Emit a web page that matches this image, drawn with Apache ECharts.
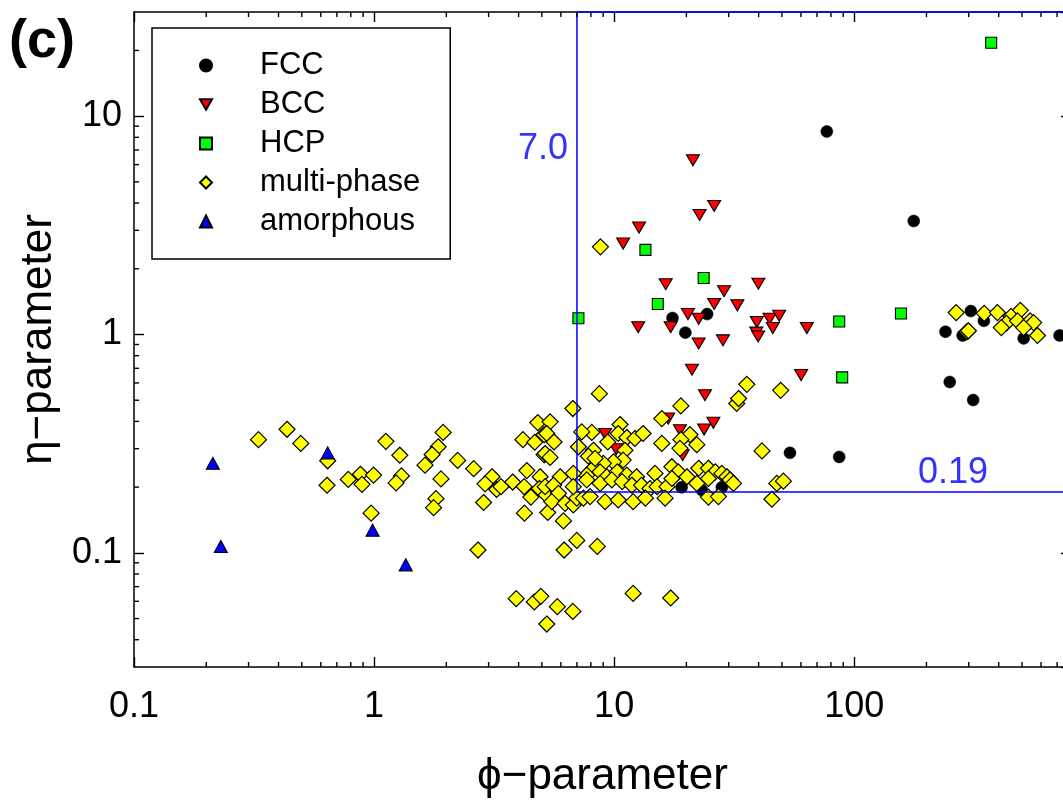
<!DOCTYPE html>
<html>
<head>
<meta charset="utf-8">
<script src="https://cdn.jsdelivr.net/npm/echarts@6/dist/echarts.min.js"></script>
<style>
  html, body { margin: 0; padding: 0; background: #fff; }
  #chart { width: 1063px; height: 803px; }
</style>
</head>
<body>
<div id="chart"></div>
<script>
// phi (x) and eta (y) parameters of each alloy, grouped by observed phase
const fcc = [
  [76.9, 8.51], [177, 3.31], [240, 1.03], [283, 0.99], [306, 1.28], [347, 1.155],
  [508, 0.96], [717, 0.99], [250, 0.606], [313, 0.501], [54, 0.287], [86.6, 0.275],
  [17.5, 1.19], [24.4, 1.24], [19.8, 1.02], [19.1, 0.1995], [23.2, 0.194], [28.1, 0.1995]
];
const bcc = [
  [21.3, 6.28], [26.1, 3.88], [22.7, 3.53], [12.7, 3.09], [10.9, 2.61], [16.4, 1.70],
  [28.7, 1.58], [39.9, 1.71], [26.1, 1.38], [32.6, 1.36], [20.3, 1.24], [22.5, 1.18],
  [12.6, 1.08], [17.2, 1.08], [39.3, 1.14], [44.4, 1.18], [48.7, 1.22], [45.8, 1.07],
  [39.1, 1.02], [39.8, 0.98], [63.5, 1.07], [22.5, 0.91], [28.4, 0.94], [21.1, 0.69],
  [60.1, 0.652], [23.9, 0.527], [16.8, 0.412], [18.8, 0.364], [25.9, 0.394], [23.7, 0.367],
  [9.17, 0.35], [10.2, 0.298], [19.3, 0.28]
];
const hcp = [
  [372, 21.7], [86.6, 1.147], [156.6, 1.247], [89.1, 0.636],
  [13.5, 2.44], [23.6, 1.815], [15.2, 1.38], [7.1, 1.187]
];
const multiPhase = [
  [0.330, 0.330], [0.434, 0.368], [0.495, 0.317], [0.641, 0.264], [0.637, 0.204],
  [0.781, 0.217], [0.877, 0.229], [0.891, 0.206], [0.995, 0.227], [0.972, 0.152],
  [1.12, 0.324], [1.28, 0.280], [1.30, 0.225], [1.235, 0.209], [1.94, 0.356],
  [1.85, 0.306], [1.745, 0.282], [1.63, 0.252], [1.90, 0.218], [1.81, 0.177],
  [1.77, 0.161], [2.23, 0.265], [2.60, 0.243], [3.10, 0.223], [2.90, 0.207],
  [3.24, 0.195], [3.38, 0.201], [2.86, 0.170], [3.78, 0.211], [2.71, 0.103],
  [4.17, 0.330], [4.67, 0.321], [4.81, 0.395], [5.11, 0.348], [5.11, 0.281],
  [4.33, 0.238], [4.92, 0.223], [4.22, 0.201], [4.88, 0.197], [4.50, 0.180],
  [5.21, 0.184], [4.23, 0.152], [5.29, 0.153], [3.91, 0.0617], [4.65, 0.0596],
  [4.95, 0.0632], [5.24, 0.0472], [6.15, 0.140], [6.99, 0.114], [6.19, 0.103],
  [8.51, 0.107], [12.0, 0.0652], [17.2, 0.0621], [5.80, 0.0567], [6.73, 0.0539],
  [8.68, 0.536], [6.73, 0.458], [18.97, 0.471], [32.4, 0.483], [15.8, 0.412],
  [5.41, 0.398], [10.59, 0.387], [8.07, 0.356], [7.33, 0.358], [10.4, 0.352],
  [11.3, 0.3375], [12.2, 0.334], [13.2, 0.352], [20.7, 0.348], [22.1, 0.313],
  [18.97, 0.330], [15.8, 0.317], [9.41, 0.322], [5.24, 0.352], [5.62, 0.322],
  [5.16, 0.285], [5.41, 0.2735], [18.8, 0.301], [8.20, 0.295], [7.81, 0.277],
  [11.1, 0.295], [10.9, 0.266], [9.94, 0.261], [9.02, 0.257], [8.20, 0.244],
  [7.69, 0.227], [8.74, 0.235], [9.32, 0.223], [10.3, 0.235], [11.3, 0.227],
  [12.4, 0.223], [6.76, 0.231], [5.96, 0.223], [14.8, 0.231], [17.4, 0.248],
  [18.5, 0.235], [20.1, 0.223], [22.5, 0.244], [24.7, 0.244], [26.4, 0.235],
  [28.1, 0.231], [29.5, 0.223], [30.4, 0.216], [31.4, 0.208], [24.7, 0.219],
  [22.1, 0.208], [5.16, 0.201], [5.59, 0.204], [5.86, 0.1873], [5.50, 0.1715],
  [6.25, 0.1686], [6.76, 0.1656], [6.99, 0.178], [7.45, 0.178], [7.94, 0.181],
  [7.69, 0.216], [8.74, 0.208], [9.78, 0.216], [10.8, 0.212], [11.85, 0.204],
  [13.0, 0.204], [14.1, 0.197], [15.1, 0.201], [16.6, 0.201], [17.4, 0.219],
  [9.17, 0.1715], [10.4, 0.1746], [12.0, 0.1715], [13.5, 0.178], [16.3, 0.178],
  [24.7, 0.180], [27.2, 0.181], [7.10, 0.306], [6.76, 0.201], [8.33, 0.2706],
  [8.77, 2.52], [35.7, 0.591], [49.4, 0.555], [33.0, 0.509], [41.3, 0.293],
  [47.6, 0.208], [50.7, 0.213], [45.4, 0.176],
  [266, 1.26], [348, 1.25], [395, 1.26], [492, 1.29], [450, 1.21], [430, 1.126],
  [410, 1.076], [479, 1.155], [541, 1.155], [559, 1.134], [508, 1.076], [580, 0.99],
  [295, 1.03], [299, 1.04]
];
const amorphous = [
  [0.213, 0.257], [0.230, 0.107], [0.641, 0.287], [0.986, 0.127], [1.355, 0.0881]
];

// threshold values and the boundary they enclose
const phiCut = 7.0;
const etaCut = 0.19;
const xRange = [0.1, 800];
const yRange = [0.03, 30];
const thresholdPath = [[xRange[1], etaCut], [phiCut, etaCut], [phiCut, yRange[1]], [xRange[1], yRange[1]]];
const thresholdLabels = [
  { value: [phiCut, 7.07], text: '7.0', pos: 'left' },
  { value: [258, etaCut], text: '0.19', pos: 'top' }
];

// minor tick positions (2..9 within each decade)
function minorsOf(lo, hi) {
  const out = [];
  for (let d = lo; d < hi; d *= 10) {
    for (let k = 2; k <= 9; k++) out.push(+(k * d).toPrecision(3));
  }
  return out;
}
const xMinor = minorsOf(0.1, 1000).filter(v => v < xRange[1]);
const yMinor = minorsOf(0.01, 100).filter(v => v > yRange[0] && v < yRange[1]);

const MAJOR_LEN = 10;
const MINOR_LEN = 5;
const TICK_W = 1.4;
// anchors sit a hair inside the frame so they stay within the axis extent
const EDGE = 1.0005;

const FONT = '"Liberation Sans", Arial, Helvetica, sans-serif';
const AXIS_LINE = { color: '#000', width: 1.5 };
const MAJOR_TICK = { show: true, inside: true, length: MAJOR_LEN, lineStyle: { color: '#000', width: TICK_W } };

// only the decades carry a label
function fmt(v) {
  const lg = Math.log10(v);
  return Math.abs(lg - Math.round(lg)) < 1e-6 ? String(+v.toPrecision(3)) : '';
}

// short inward minor ticks drawn as thin bars at the frame edges
function tickSeries(name, points, horizontal, len, dir) {
  return {
    name, type: 'scatter', data: points, clip: false, z: 7,
    symbol: 'rect',
    symbolSize: horizontal ? [len, TICK_W] : [TICK_W, len],
    symbolOffset: horizontal ? [dir * len / 2, 0] : [0, dir * len / 2],
    itemStyle: { color: '#000', opacity: 1 }
  };
}

const baseLog = {
  type: 'log', logBase: 10,
  splitLine: { show: false },
  minorTick: { show: false },
  axisTick: MAJOR_TICK
};

const option = {
  backgroundColor: '#fff',
  animation: false,
  textStyle: { fontFamily: FONT },
  title: {
    text: '(c)', left: 4, top: 10,
    textStyle: { fontFamily: FONT, fontWeight: 'bold', fontSize: 54, color: '#000' }
  },
  grid: { left: 134, right: -8, top: 12, bottom: 136, outerBoundsMode: 'none', containLabel: false },
  xAxis: [
    Object.assign({}, baseLog, {
      position: 'bottom', min: xRange[0], max: xRange[1],
      axisLine: { show: true, onZero: false, lineStyle: AXIS_LINE },
      axisLabel: {
        show: true, formatter: fmt, margin: 22, showMinLabel: true, showMaxLabel: false,
        fontSize: 36, color: '#000', fontFamily: FONT
      },
      name: 'ϕ−parameter', nameLocation: 'middle', nameGap: 88,
      nameTextStyle: { fontSize: 44, color: '#000', fontFamily: FONT }
    }),
    Object.assign({}, baseLog, {
      position: 'top', min: xRange[0], max: xRange[1],
      axisLine: { show: true, onZero: false, lineStyle: AXIS_LINE },
      axisLabel: { show: false }
    })
  ],
  yAxis: [
    Object.assign({}, baseLog, {
      position: 'left', min: yRange[0], max: yRange[1],
      axisLine: { show: true, onZero: false, lineStyle: AXIS_LINE },
      axisLabel: {
        show: true, formatter: fmt, margin: 12, showMinLabel: false, showMaxLabel: false,
        fontSize: 36, color: '#000', fontFamily: FONT
      },
      name: 'η−parameter', nameLocation: 'middle', nameGap: 64,
      nameTextStyle: { fontSize: 44, color: '#000', fontFamily: FONT }
    }),
    Object.assign({}, baseLog, {
      position: 'right', min: yRange[0], max: yRange[1],
      axisLine: { show: true, onZero: false, lineStyle: AXIS_LINE },
      axisLabel: { show: false }
    })
  ],
  legend: {
    orient: 'vertical',
    left: 152, top: 28,
    padding: [22, 30, 22, 47],
    itemWidth: 12, itemHeight: 12,
    itemGap: 8,
    backgroundColor: '#fff',
    borderColor: '#000', borderWidth: 1.5,
    textStyle: { fontSize: 31, color: '#000', fontFamily: FONT, lineHeight: 30.5, padding: [0, 0, 0, 43] },
    data: ['FCC', 'BCC', 'HCP', 'multi-phase', 'amorphous']
  },
  series: [
    {
      name: 'FCC', type: 'scatter', data: fcc,
      symbol: 'circle', symbolSize: 12,
      itemStyle: { color: '#000', borderColor: '#000', borderWidth: 0.5, opacity: 1 }
    },
    {
      name: 'BCC', type: 'scatter', data: bcc,
      symbol: 'path://M0,0L12,0L6,10.4Z', symbolSize: [13, 11],
      itemStyle: { color: '#ff0000', borderColor: '#000', borderWidth: 1.1, opacity: 1 }
    },
    {
      name: 'HCP', type: 'scatter', data: hcp,
      symbol: 'rect', symbolSize: 11,
      itemStyle: { color: '#00ff00', borderColor: '#000', borderWidth: 1.1, opacity: 1 }
    },
    {
      name: 'multi-phase', type: 'scatter', data: multiPhase,
      symbol: 'diamond', symbolSize: 16,
      itemStyle: { color: '#ffff00', borderColor: '#000', borderWidth: 1.2, opacity: 1 }
    },
    {
      name: 'amorphous', type: 'scatter', data: amorphous,
      symbol: 'triangle', symbolSize: [13, 12],
      itemStyle: { color: '#0000ff', borderColor: '#000', borderWidth: 1.1, opacity: 1 }
    },
    {
      name: 'threshold', type: 'line', data: thresholdPath,
      symbol: 'none', clip: false, z: 5, silent: true,
      lineStyle: { color: '#0000ff', width: 1.5 }
    },
    {
      name: 'threshold-labels', type: 'scatter',
      symbolSize: 0, z: 6, silent: true,
      data: thresholdLabels.map(d => ({
        value: d.value,
        label: {
          show: true, position: d.pos, distance: d.pos === 'left' ? 9 : 1,
          formatter: d.text, fontSize: 36, color: '#0000ff', fontFamily: FONT
        }
      }))
    },
    tickSeries('x-minor-bottom', xMinor.map(v => [v, yRange[0] * EDGE]), false, MINOR_LEN, -1),
    tickSeries('x-minor-top', xMinor.map(v => [v, yRange[1] / EDGE]), false, MINOR_LEN, 1),
    tickSeries('y-minor-left', yMinor.map(v => [xRange[0] * EDGE, v]), true, MINOR_LEN, 1),
    tickSeries('y-minor-right', yMinor.map(v => [xRange[1] / EDGE, v]), true, MINOR_LEN, -1)
  ]
};

const chart = echarts.init(document.getElementById('chart'), null, { renderer: 'canvas' });
chart.setOption(option);
</script>
</body>
</html>
